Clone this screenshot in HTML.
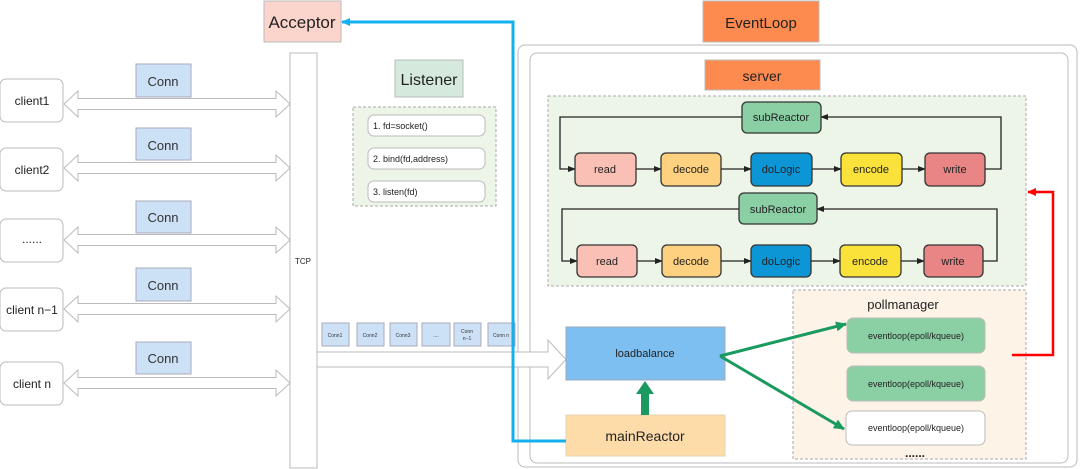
<!DOCTYPE html>
<html><head><meta charset="utf-8"><style>
html,body{margin:0;padding:0;background:#fff;}
svg{display:block;font-family:"Liberation Sans",sans-serif;}
</style></head><body>
<svg width="1080" height="469" viewBox="0 0 1080 469" xmlns="http://www.w3.org/2000/svg">
<defs>
<marker id="ab" markerWidth="8" markerHeight="8" refX="7" refY="4" orient="auto" markerUnits="userSpaceOnUse"><path d="M0,1 L8,4 L0,7 z" fill="#222"/></marker>
<marker id="ablue" markerWidth="10" markerHeight="10" refX="8" refY="5" orient="auto" markerUnits="userSpaceOnUse"><path d="M0,1 L9,5 L0,9 z" fill="#14b0ee"/></marker>
<marker id="ared" markerWidth="10" markerHeight="10" refX="8" refY="5" orient="auto" markerUnits="userSpaceOnUse"><path d="M0,1 L9,5 L0,9 z" fill="#f00"/></marker>
<marker id="agr" markerWidth="12" markerHeight="12" refX="10" refY="6" orient="auto" markerUnits="userSpaceOnUse"><path d="M0,1 L11,6 L0,11 z" fill="#1a9a5e"/></marker>
</defs>

<!-- Acceptor -->
<rect x="264" y="1" width="77" height="41" fill="#fbd5cc" stroke="#bbb"/>
<text x="302" y="28" font-size="17" text-anchor="middle" fill="#222">Acceptor</text>

<!-- TCP bar -->
<rect x="290" y="53" width="27" height="415" fill="#fff" stroke="#bbb"/>
<text x="303" y="264" font-size="8" text-anchor="middle" fill="#222">TCP</text>

<!-- clients -->
<g stroke="#bbb" fill="#fff">
<rect x="0" y="79" width="63" height="43" rx="6"/>
<rect x="0" y="148" width="63" height="43" rx="6"/>
<rect x="0" y="219" width="63" height="43" rx="6"/>
<rect x="0" y="288" width="63" height="43" rx="6"/>
<rect x="0" y="362" width="63" height="43" rx="6"/>
</g>
<g font-size="12" text-anchor="middle" fill="#222">
<text x="32" y="105">client1</text>
<text x="32" y="174">client2</text>
<text x="32" y="243">......</text>
<text x="32" y="314">client n−1</text>
<text x="32" y="388">client n</text>
</g>
<!-- double arrows -->
<g fill="#fff" stroke="#bbb">
<path d="M64,104 L78,91 L78,98.5 L276,98.5 L276,91 L290,104 L276,117 L276,109.5 L78,109.5 L78,117 Z"/>
<path d="M64,168 L78,155 L78,162.5 L276,162.5 L276,155 L290,168 L276,181 L276,173.5 L78,173.5 L78,181 Z"/>
<path d="M64,240 L78,227 L78,234.5 L276,234.5 L276,227 L290,240 L276,253 L276,245.5 L78,245.5 L78,253 Z"/>
<path d="M64,309 L78,296 L78,303.5 L276,303.5 L276,296 L290,309 L276,322 L276,314.5 L78,314.5 L78,322 Z"/>
<path d="M64,383 L78,370 L78,377.5 L276,377.5 L276,370 L290,383 L276,396 L276,388.5 L78,388.5 L78,396 Z"/>
</g>
<!-- Conn labels -->
<g fill="#cce1f6" stroke="#aab">
<rect x="136" y="64" width="55" height="33"/>
<rect x="136" y="128" width="55" height="32"/>
<rect x="136" y="201" width="55" height="32"/>
<rect x="136" y="268" width="55" height="33"/>
<rect x="136" y="342" width="55" height="32"/>
</g>
<g font-size="13" text-anchor="middle" fill="#333">
<text x="163" y="86">Conn</text>
<text x="163" y="150">Conn</text>
<text x="163" y="222">Conn</text>
<text x="163" y="290">Conn</text>
<text x="163" y="363">Conn</text>
</g>

<!-- Listener -->
<rect x="395" y="60" width="68" height="37" fill="#d5e9dc" stroke="#bbb"/>
<text x="429" y="85" font-size="16" text-anchor="middle" fill="#222">Listener</text>
<rect x="353" y="107" width="143" height="99" fill="#edf5e9" stroke="#aaa" stroke-dasharray="3,2"/>
<g fill="#fff" stroke="#bbb">
<rect x="368" y="115" width="117" height="21" rx="6"/>
<rect x="368" y="148" width="117" height="21" rx="6"/>
<rect x="368" y="181" width="117" height="21" rx="6"/>
</g>
<g font-size="9" fill="#222">
<text x="373" y="129">1. fd=socket()</text>
<text x="373" y="162">2. bind(fd,address)</text>
<text x="373" y="195">3. listen(fd)</text>
</g>

<!-- small conns -->
<g fill="#cce1f6" stroke="#aab">
<rect x="322" y="323" width="27" height="23"/>
<rect x="357" y="323" width="27" height="23"/>
<rect x="390" y="323" width="27" height="23"/>
<rect x="422" y="323" width="28" height="23"/>
<rect x="454" y="323" width="27" height="23"/>
<rect x="488" y="323" width="27" height="23"/>
</g>
<g font-size="5" text-anchor="middle" fill="#333">
<text x="335" y="337">Conn1</text>
<text x="370" y="337">Conn2</text>
<text x="403" y="337">Conn3</text>
<text x="436" y="337">....</text>
<text x="467" y="333">Conn</text><text x="467" y="340">n−1</text>
<text x="501" y="337">Conn n</text>
</g>

<!-- EventLoop outer -->
<rect x="703" y="1" width="116" height="41" fill="#fd8a4e" stroke="#bbb"/>
<text x="761" y="28" font-size="15" text-anchor="middle" fill="#222">EventLoop</text>
<rect x="518" y="45" width="559" height="422" rx="7" fill="#fff" stroke="#bbb"/>
<rect x="530" y="53" width="538" height="410" rx="7" fill="#fff" stroke="#bbb"/>
<rect x="705" y="60" width="115" height="30" fill="#fd8a4e" stroke="#bbb"/>
<text x="762" y="81" font-size="14" text-anchor="middle" fill="#222">server</text>

<!-- wide arrow from TCP -->
<path d="M317,352 L548,352 L548,340 L566,359.5 L548,379 L548,367 L317,367 Z" fill="#fff" stroke="#bbb"/>

<!-- green region -->
<rect x="548" y="96" width="478" height="190" fill="#edf5e9" stroke="#aaa" stroke-dasharray="3,2"/>
<!-- row1 loop -->
<g stroke="#222" stroke-width="1.3" fill="none">
<path d="M742,117 L560,117 L560,169 L575,169" marker-end="url(#ab)"/>
<path d="M985,169 L1001,169 L1001,117 L821,117" marker-end="url(#ab)"/>
<path d="M636,169 L661,169" marker-end="url(#ab)"/>
<path d="M721,169 L751,169" marker-end="url(#ab)"/>
<path d="M812,169 L841,169" marker-end="url(#ab)"/>
<path d="M902,169 L925,169" marker-end="url(#ab)"/>
<path d="M739,209 L562,209 L562,261 L577,261" marker-end="url(#ab)"/>
<path d="M983,261 L997,261 L997,209 L817,209" marker-end="url(#ab)"/>
<path d="M637,261 L662,261" marker-end="url(#ab)"/>
<path d="M721,261 L751,261" marker-end="url(#ab)"/>
<path d="M811,261 L840,261" marker-end="url(#ab)"/>
<path d="M901,261 L924,261" marker-end="url(#ab)"/>
</g>
<g stroke="#333" stroke-width="1.3">
<rect x="742" y="102" width="79" height="31" rx="5" fill="#8ad0a4"/>
<rect x="575" y="153" width="61" height="33" rx="5" fill="#fbc0b5"/>
<rect x="661" y="153" width="60" height="33" rx="5" fill="#fdd17f"/>
<rect x="751" y="153" width="61" height="33" rx="5" fill="#0d96d6"/>
<rect x="841" y="153" width="61" height="33" rx="5" fill="#fbe23a"/>
<rect x="925" y="153" width="60" height="33" rx="5" fill="#e98585"/>
<rect x="739" y="193" width="78" height="31" rx="5" fill="#8ad0a4"/>
<rect x="577" y="245" width="60" height="32" rx="5" fill="#fbc0b5"/>
<rect x="662" y="245" width="59" height="32" rx="5" fill="#fdd17f"/>
<rect x="751" y="245" width="60" height="32" rx="5" fill="#0d96d6"/>
<rect x="840" y="245" width="61" height="32" rx="5" fill="#fbe23a"/>
<rect x="924" y="245" width="59" height="32" rx="5" fill="#e98585"/>
</g>
<g font-size="11" text-anchor="middle" fill="#222">
<text x="781" y="121">subReactor</text>
<text x="605" y="173">read</text>
<text x="691" y="173">decode</text>
<text x="781" y="173">doLogic</text>
<text x="871" y="173">encode</text>
<text x="955" y="173">write</text>
<text x="778" y="213">subReactor</text>
<text x="607" y="265">read</text>
<text x="691" y="265">decode</text>
<text x="781" y="265">doLogic</text>
<text x="870" y="265">encode</text>
<text x="953" y="265">write</text>
</g>

<!-- pollmanager -->
<rect x="793" y="290" width="233" height="169" fill="#fdf3e7" stroke="#aaa" stroke-dasharray="3,2"/>
<text x="903" y="309" font-size="13" text-anchor="middle" fill="#222">pollmanager</text>
<g stroke="#bbb">
<rect x="847" y="318" width="138" height="35" rx="6" fill="#8ad0a4"/>
<rect x="847" y="366" width="138" height="35" rx="6" fill="#8ad0a4"/>
<rect x="846" y="411" width="139" height="34" rx="6" fill="#fff"/>
</g>
<g font-size="9" text-anchor="middle" fill="#222">
<text x="916" y="339">eventloop(epoll/kqueue)</text>
<text x="916" y="387">eventloop(epoll/kqueue)</text>
<text x="916" y="431">eventloop(epoll/kqueue)</text>
</g>
<text x="915" y="457" font-size="12" text-anchor="middle" fill="#222" font-weight="bold">......</text>

<!-- loadbalance & mainReactor -->
<rect x="566" y="327" width="159" height="53" fill="#7dbff0" stroke="#9ab"/>
<text x="645" y="357" font-size="11" text-anchor="middle" fill="#222">loadbalance</text>
<rect x="566" y="415" width="159" height="41" fill="#fddca9" stroke="#e8d0b0"/>
<text x="645" y="441" font-size="14" text-anchor="middle" fill="#222">mainReactor</text>
<path d="M641,415 L641,394 L636,394 L645,381 L654,394 L649,394 L649,415 Z" fill="#1a9a5e"/>
<g stroke="#1a9a5e" stroke-width="3" fill="none">
<path d="M720,356 L846,324" marker-end="url(#agr)"/>
<path d="M720,356 L844,429" marker-end="url(#agr)"/>
</g>

<!-- blue line -->
<path d="M566,441 L513,441 L513,22 L342,22" stroke="#14b0ee" stroke-width="3" fill="none" marker-end="url(#ablue)"/>
<!-- red line -->
<path d="M1012,355 L1053,355 L1053,192 L1028,192" stroke="#f00" stroke-width="2.5" fill="none" marker-end="url(#ared)"/>
</svg>
</body></html>
